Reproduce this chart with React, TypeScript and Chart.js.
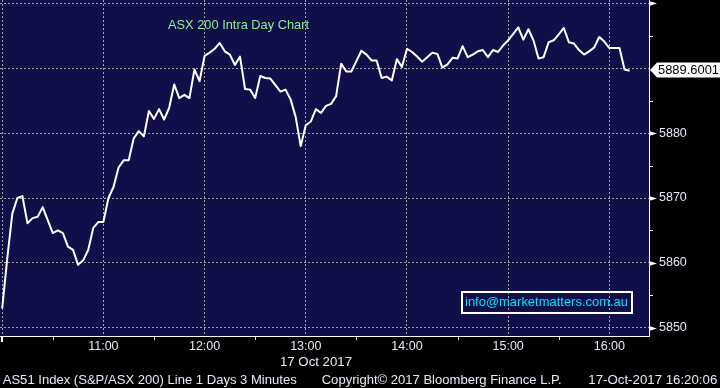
import React, { useEffect, useRef } from "react";
import { Chart, registerables } from "chart.js";

Chart.register(...registerables);

// ---- data ----
const INTERVAL_MIN = 3; // 3-minute bars starting 10:00
const PRICES = [
  5853.0, 5860.7, 5867.6, 5870.0, 5870.3, 5866.1, 5866.9, 5867.1, 5868.6, 5866.6,
  5864.6, 5865.0, 5864.6, 5862.5, 5862.0, 5859.7, 5860.4, 5862.0, 5865.4, 5866.3,
  5866.3, 5870.0, 5871.7, 5874.7, 5875.8, 5875.8, 5879.2, 5880.3, 5879.5, 5883.4,
  5882.2, 5883.7, 5882.1, 5883.9, 5887.5, 5885.4, 5885.9, 5885.4, 5889.8, 5888.0,
  5891.9, 5892.4, 5893.0, 5893.9, 5892.6, 5892.1, 5890.5, 5891.8, 5886.8, 5886.7,
  5885.4, 5888.8, 5888.5, 5888.4, 5887.4, 5886.4, 5886.7, 5885.2, 5882.5, 5878.0,
  5881.2, 5881.8, 5883.7, 5883.1, 5884.2, 5884.5, 5885.7, 5890.7, 5889.5, 5889.5,
  5891.1, 5892.7, 5892.1, 5891.2, 5891.2, 5888.5, 5888.7, 5888.1, 5891.4, 5890.2,
  5893.0, 5892.5, 5891.8, 5891.0, 5891.7, 5892.4, 5892.2, 5890.1, 5890.6, 5891.6,
  5891.5, 5893.4, 5891.7, 5892.1, 5892.6, 5892.8, 5891.7, 5892.8, 5892.5, 5893.5,
  5894.3, 5895.3, 5896.3, 5894.4, 5896.0, 5894.3, 5891.5, 5891.7, 5894.0, 5894.3,
  5895.2, 5896.2, 5894.0, 5893.8, 5892.8, 5892.1, 5892.6, 5893.2, 5894.8, 5894.1,
  5893.1, 5893.1, 5893.1, 5889.8, 5889.6001,
];
const X_TICKS = [0, 30, 60, 90, 120, 150, 180, 210, 240, 270, 300, 330, 360];
const HOUR_LABELS = ["10:00", "", "11:00", "", "12:00", "", "13:00", "", "14:00", "", "15:00", "", "16:00"];
const Y_TICKS = [5850, 5855, 5860, 5865, 5870, 5875, 5880, 5885, 5890, 5895, 5900];
const Y_LABELLED = [5850, 5860, 5870, 5880];
const LAST_LABEL = "5889.6001";
const TITLE = "ASX 200 Intra Day Chart";
const DATE_LABEL = "17 Oct 2017";
const FOOTER_LEFT = "AS51 Index (S&P/ASX 200) Line 1 Days 3 Minutes";
const FOOTER_MID = "Copyright\u00A9 2017 Bloomberg Finance L.P.";
const FOOTER_RIGHT = "17-Oct-2017 16:20:06";
const EMAIL = "info@marketmatters.com.au";

// ---- styles ----
const FONT = '"Liberation Sans", Arial, sans-serif';
const NAVY = "#110f4a";
const GRID = "#a9a8a0";
const TEXT = "#e6eaf8";

function fitText(ctx: CanvasRenderingContext2D, text: string, x: number, y: number, width: number, size: number, color: string, align: "left" | "center" = "left") {
  ctx.save();
  ctx.font = `${size}px ${FONT}`;
  ctx.fillStyle = color;
  ctx.textBaseline = "middle";
  ctx.textAlign = "left";
  const w = ctx.measureText(text).width;
  const sx = width / w;
  const left = align === "center" ? x - width / 2 : x;
  ctx.translate(left, y);
  ctx.scale(sx, 1);
  ctx.fillText(text, 0, 0);
  ctx.restore();
}

const decoPlugin = {
  id: "deco",
  beforeDraw(chart: any) {
    const { ctx, chartArea: a } = chart;
    ctx.save();
    ctx.fillStyle = "#000";
    ctx.fillRect(0, 0, chart.width, chart.height);
    ctx.fillStyle = NAVY;
    ctx.fillRect(a.left, a.top, a.right - a.left, a.bottom - a.top);
    ctx.restore();
  },
  afterDraw(chart: any) {
    const { ctx, chartArea: a } = chart;
    const x = chart.scales.x;
    const y = chart.scales.y;
    ctx.save();
    ctx.fillStyle = "#fff";
    // y tick marks
    for (const v of Y_TICKS) {
      const py = Math.round(y.getPixelForValue(v));
      if (v % 10 === 0) {
        if (v === 5890) continue;
        ctx.beginPath();
        ctx.moveTo(a.right, py - 2);
        ctx.lineTo(a.right + 8, py + 0.5);
        ctx.lineTo(a.right, py + 3);
        ctx.closePath();
        ctx.fill();
      } else {
        ctx.fillRect(a.right, py, 4, 1);
      }
    }
    // x tick marks
    for (const v of X_TICKS) {
      const px = Math.round(x.getPixelForValue(v));
      if (v === 0) ctx.fillRect(px - 1, a.bottom, 2, 6);
      else if (v % 60 === 30) ctx.fillRect(px, a.bottom, 1, 4);
    }
    // last price label
    const last = PRICES[PRICES.length - 1];
    const cy = Math.round(y.getPixelForValue(last)) - 1;
    ctx.beginPath();
    ctx.moveTo(a.right + 1, cy);
    ctx.lineTo(a.right + 8, cy - 7.5);
    ctx.lineTo(chart.width, cy - 7.5);
    ctx.lineTo(chart.width, cy + 7.5);
    ctx.lineTo(a.right + 8, cy + 7.5);
    ctx.closePath();
    ctx.fill();
    fitText(ctx, LAST_LABEL, 658, cy + 0.5, 61, 13, "#000");
    // title
    fitText(ctx, TITLE, 168, 25, 141, 13, "#90ee90");
    // email box
    ctx.strokeStyle = "#fff";
    ctx.lineWidth = 2;
    ctx.strokeRect(462, 292, 170, 21);
    fitText(ctx, EMAIL, 465, 302.5, 163, 13, "#00e0ff");
    // date + footer
    fitText(ctx, DATE_LABEL, 316, 362, 72, 13, TEXT, "center");
    fitText(ctx, FOOTER_LEFT, 2.7, 380, 294, 13, TEXT);
    fitText(ctx, FOOTER_MID, 321.7, 380, 240, 13, TEXT);
    fitText(ctx, FOOTER_RIGHT, 588.3, 380, 129, 13, TEXT);
    ctx.restore();
  },
};

export default function App() {
  const ref = useRef<HTMLCanvasElement | null>(null);
  useEffect(() => {
    if (!ref.current) return;
    const points = PRICES.map((p, i) => ({ x: i * INTERVAL_MIN, y: p }));
    const chart = new Chart(ref.current, {
      type: "line",
      data: {
        datasets: [
          {
            data: points,
            borderColor: "#ffffff",
            borderWidth: 2,
            pointRadius: 0,
            tension: 0,
            borderJoinStyle: "round",
          } as any,
        ],
      },
      options: {
        animation: false,
        responsive: false,
        maintainAspectRatio: false,
        devicePixelRatio: 1,
        layout: { padding: 0 },
        plugins: { legend: { display: false }, tooltip: { enabled: false }, title: { display: false } },
        events: [],
        scales: {
          x: {
            type: "linear",
            position: "bottom",
            min: -1.3,
            max: 383.5,
            afterBuildTicks: (s: any) => {
              s.ticks = X_TICKS.map((v) => ({ value: v }));
            },
            afterFit: (s: any) => {
              s.height = 52;
              s.paddingLeft = 0;
              s.paddingRight = 0;
            },
            ticks: {
              autoSkip: false,
              maxRotation: 0,
              minRotation: 0,
              padding: 3,
              color: TEXT,
              font: { family: FONT, size: 12.5 },
              callback: (v: any) => {
                const idx = X_TICKS.indexOf(Number(v));
                return idx > 0 ? HOUR_LABELS[idx] : "";
              },
            },
            grid: {
              drawTicks: false,
              lineWidth: 1,
              color: (c: any) => (c.tick && c.tick.value % 60 === 0 ? GRID : "rgba(0,0,0,0)"),
            },
            border: { display: true, color: "#ffffff", width: 1, dash: [2, 2] },
          },
          y: {
            type: "linear",
            position: "right",
            min: 5848.74,
            max: 5900.51,
            afterBuildTicks: (s: any) => {
              s.ticks = Y_TICKS.map((v) => ({ value: v }));
            },
            afterFit: (s: any) => {
              s.width = 71;
              s.paddingTop = 0;
              s.paddingBottom = 0;
            },
            ticks: {
              padding: 10,
              color: TEXT,
              font: { family: FONT, size: 12.5 },
              callback: (v: any) => (Y_LABELLED.includes(Number(v)) ? String(v) : ""),
            },
            grid: {
              drawTicks: false,
              lineWidth: 1,
              color: (c: any) => (c.tick && c.tick.value % 10 === 0 ? GRID : "rgba(0,0,0,0)"),
            },
            border: { display: true, color: "#ffffff", width: 1, dash: [2, 2] },
          },
        },
      },
      plugins: [decoPlugin],
    });
    return () => chart.destroy();
  }, []);
  return (
    <div style={{ position: "fixed", left: 0, top: 0, width: 720, height: 388, background: "#000" }}>
      <canvas ref={ref} width={720} height={388} style={{ display: "block", width: 720, height: 388 }} />
    </div>
  );
}
